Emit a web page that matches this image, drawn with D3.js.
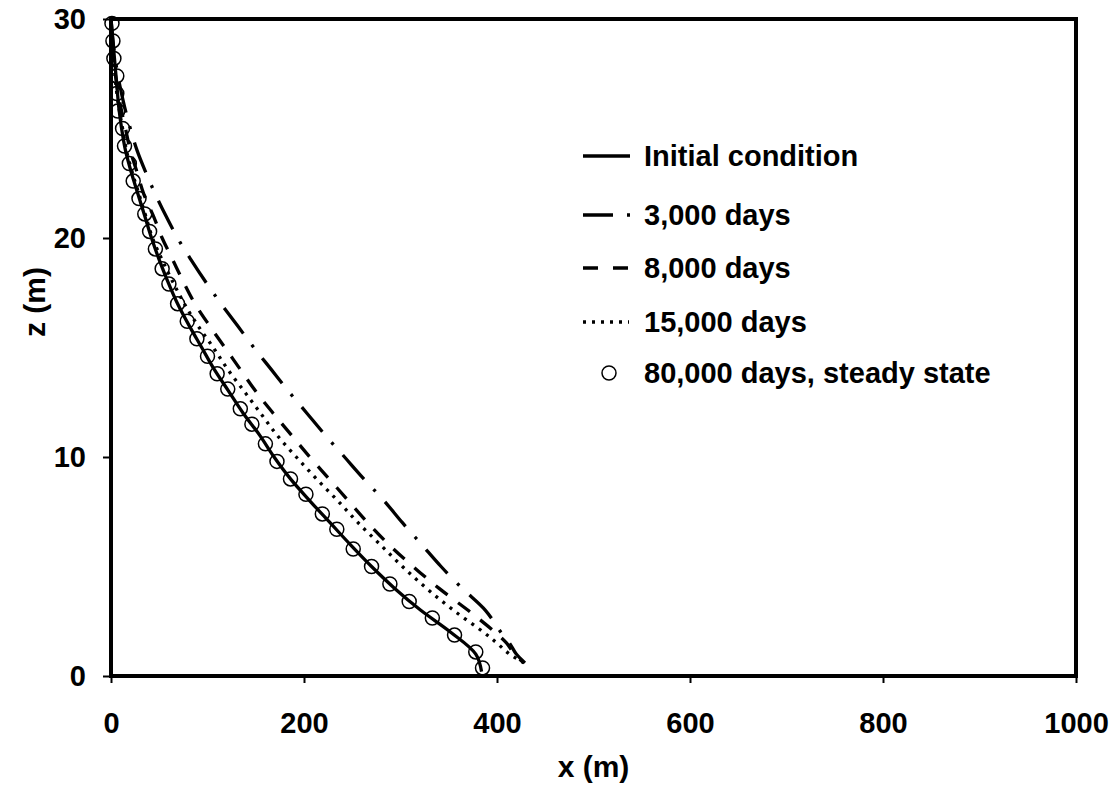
<!DOCTYPE html>
<html>
<head>
<meta charset="utf-8">
<script src="https://cdn.jsdelivr.net/npm/d3@7"></script>
<style>
  body { margin: 0; background: #fff; }
  svg { font-family: "Liberation Sans", Arial, sans-serif; font-weight: bold; }
</style>
</head>
<body>
<svg id="chart" width="1115" height="794"></svg>
<script>
// depth z (m) and lateral position x (m) of each profile
const initZ = [30, 29, 28, 27, 26, 25, 24, 23, 22, 21, 20, 19, 18, 17, 16, 15, 14, 13, 12, 11, 10, 9, 8, 7, 6, 5, 4, 3, 2, 1, 0.2];
const initX = [0, 2, 4, 6, 8, 11, 15, 21, 28, 35, 42, 50, 59, 69, 81, 94, 107, 122, 137, 154, 169, 186, 206, 227, 248, 270, 294, 321, 352, 378, 384];

const curveZ = [30, 29, 28, 27, 26, 25, 24, 23, 22, 21, 20, 19, 18, 17, 16, 15, 14, 13, 12, 11, 10, 9, 8, 7, 6, 5, 4, 3, 2, 1.5, 1, 0.6];
const x3000 = [0, 2, 5, 9, 14, 20, 27, 36, 46, 57, 69, 83, 98, 114, 131, 148, 166, 184, 203, 222, 242, 262, 283, 302, 322, 342, 364, 388, 404, 413, 420, 429];
const x8000 = [0, 1, 3, 6, 10, 15, 20, 27, 34, 44, 53, 64, 75, 87, 102, 118, 134, 150, 168, 187, 206, 226, 246, 266, 288, 313, 340, 370, 398, 410, 418, 428];
const x15000 = [0, 1, 3, 5, 8, 12, 16, 22, 29, 36, 43, 53, 64, 76, 90, 106, 121, 138, 155, 172, 192, 213, 235, 256, 279, 302, 327, 355, 386, 400, 413, 428];

// steady state markers
const steadyZ = [29.8, 29.0, 28.2, 27.4, 26.6, 25.8, 25.0, 24.2, 23.4, 22.6, 21.8, 21.1, 20.3, 19.5, 18.6, 17.9, 17.0, 16.2, 15.4, 14.6, 13.8, 13.1, 12.2, 11.5, 10.6, 9.8, 9.0, 8.3, 7.4, 6.7, 5.8, 5.0, 4.2, 3.4, 2.65, 1.87, 1.1, 0.37];
const steadyX = [1, 2, 3, 6, 6, 7, 12, 14, 19, 23, 29, 35, 40, 46, 53, 60, 69, 79, 89, 100, 110, 121, 134, 146, 160, 172, 186, 202, 219, 234, 251, 270, 289, 309, 333, 356, 378, 385];

const xTicks = [0, 200, 400, 600, 800, 1000];
const zTicks = [0, 10, 20, 30];

const legendLabels = ["Initial condition", "3,000 days", "8,000 days", "15,000 days", "80,000 days, steady state"];

const svg = d3.select("#chart");
const m = { left: 111, right: 1076, top: 19, bottom: 676 };

const x = d3.scaleLinear().domain([0, 1000]).range([m.left, m.right]);
const y = d3.scaleLinear().domain([0, 30]).range([m.bottom, m.top]);

// axes
const xAxis = svg.append("g")
  .attr("transform", `translate(0,${m.bottom})`)
  .call(d3.axisBottom(x).tickValues(xTicks).tickFormat(d3.format("d")).tickSize(7).tickPadding(29));
const yAxis = svg.append("g")
  .attr("transform", `translate(${m.left},0)`)
  .call(d3.axisLeft(y).tickValues(zTicks).tickFormat(d3.format("d")).tickSize(8).tickPadding(17));

[xAxis, yAxis].forEach(a => {
  a.select(".domain").remove();
  a.selectAll(".tick line").attr("stroke", "#000").attr("stroke-width", 2);
  a.selectAll(".tick text")
    .attr("fill", "#000")
    .style("font-size", "29px")
    .style("font-family", "Liberation Sans, Arial, sans-serif")
    .style("font-weight", "bold");
});

svg.append("text")
  .attr("x", (m.left + m.right) / 2)
  .attr("y", 777)
  .attr("text-anchor", "middle")
  .style("font-size", "30px")
  .text("x (m)");

svg.append("text")
  .attr("transform", "translate(45,302) rotate(-90)")
  .attr("text-anchor", "middle")
  .style("font-size", "30px")
  .text("z (m)");

const line = d3.line().curve(d3.curveCatmullRom);

const series = [
  { xs: x3000, zs: curveZ, dash: "32 14 3 14" },
  { xs: x8000, zs: curveZ, dash: "15 13" },
  { xs: x15000, zs: curveZ, dash: "3 6" },
  { xs: initX, zs: initZ, dash: null }
];

const plot = svg.append("g");

series.forEach(s => {
  const pts = s.zs.map((z, i) => [x(s.xs[i]), y(z)]);
  plot.append("path")
    .attr("d", line(pts))
    .attr("fill", "none")
    .attr("stroke", "#000")
    .attr("stroke-width", 3.3)
    .attr("stroke-dasharray", s.dash);
});

plot.selectAll("circle.steady")
  .data(steadyZ)
  .join("circle")
  .attr("class", "steady")
  .attr("cx", (d, i) => x(steadyX[i]))
  .attr("cy", d => y(d))
  .attr("r", 7)
  .attr("fill", "none")
  .attr("stroke", "#000")
  .attr("stroke-width", 1.5);

// frame
svg.append("rect")
  .attr("x", m.left)
  .attr("y", m.top)
  .attr("width", m.right - m.left)
  .attr("height", m.bottom - m.top)
  .attr("fill", "none")
  .attr("stroke", "#000")
  .attr("stroke-width", 4);

// legend
const legend = svg.append("g");
const rowY = [156, 215, 268, 322, 373];
const legendDash = [null, "30 14 3 14", "15 15", "3 6"];

legendLabels.forEach((label, i) => {
  if (i < 4) {
    legend.append("line")
      .attr("x1", 583).attr("x2", i === 3 ? 629 : (i === 1 ? 631 : 630))
      .attr("y1", rowY[i]).attr("y2", rowY[i])
      .attr("stroke", "#000")
      .attr("stroke-width", 3.3)
      .attr("stroke-dasharray", legendDash[i]);
  } else {
    legend.append("circle")
      .attr("cx", 609).attr("cy", rowY[i])
      .attr("r", 7)
      .attr("fill", "none")
      .attr("stroke", "#000")
      .attr("stroke-width", 1.5);
  }
  legend.append("text")
    .attr("x", 644)
    .attr("y", rowY[i])
    .attr("dy", "0.36em")
    .style("font-size", "29px")
    .text(label);
});
</script>
</body>
</html>
